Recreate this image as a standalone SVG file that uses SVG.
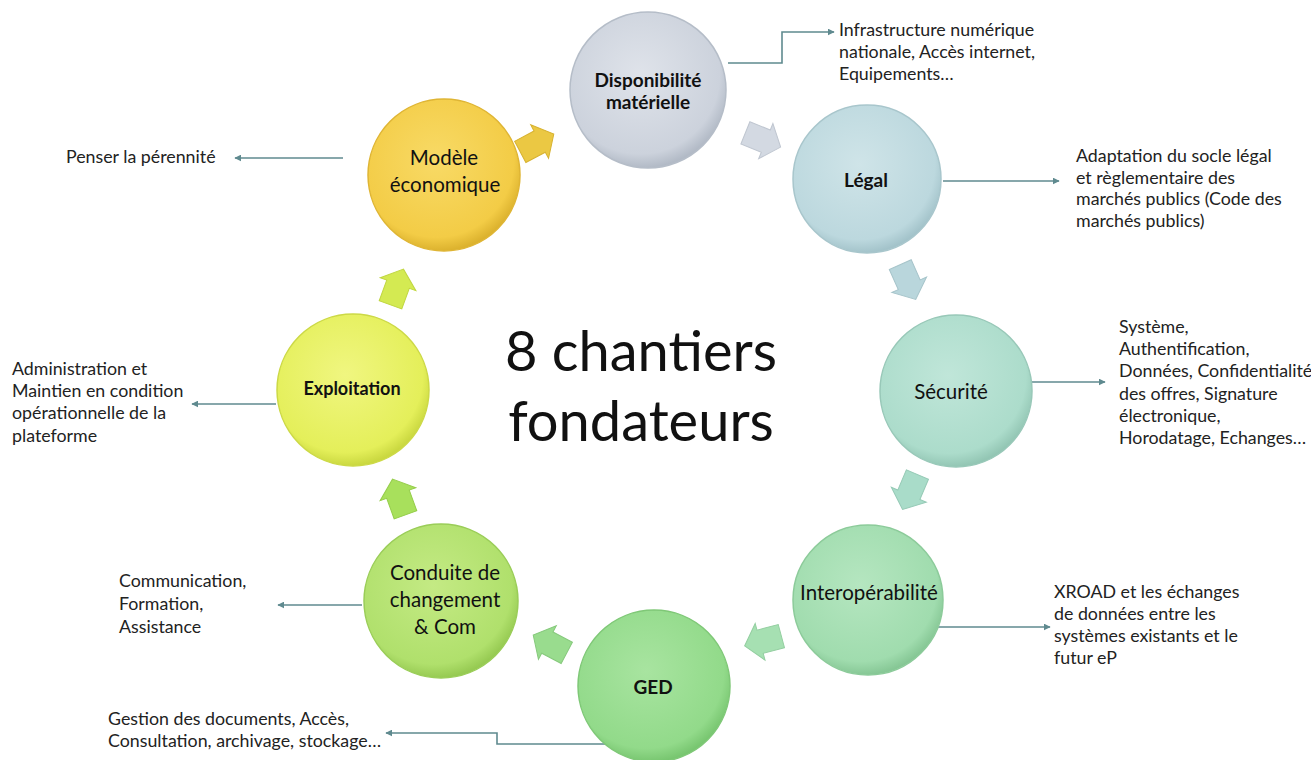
<svg xmlns="http://www.w3.org/2000/svg" xmlns:xlink="http://www.w3.org/1999/xlink" width="1311" height="760" viewBox="0 0 1311 760">
<style>
.lbl{font-family:Lato,"Open Sans","Liberation Sans",sans-serif;fill:#111;}
.note{font-family:Lato,"Open Sans","Liberation Sans",sans-serif;font-size:17.8px;fill:#222;}
.node{font-size:20.5px;text-anchor:middle;}
.b{font-weight:bold;font-size:19px;}
.conn{fill:none;stroke:#5f8a8f;stroke-width:1.6;}
.title{font-family:Lato,"Open Sans","Liberation Sans",sans-serif;font-size:56px;fill:#111;text-anchor:middle;}
</style>
<defs>
<marker id="ah" viewBox="0 0 10 10" refX="9" refY="5" markerWidth="7" markerHeight="7" markerUnits="userSpaceOnUse" orient="auto">
<path d="M0,0 L10,5 L0,10 Z" fill="#5f8a8f"/>
</marker>
<path id="barrow" d="M-19,-12 L3,-12 L3,-19 L19,0 L3,19 L3,12 L-19,12 Z"/>
<radialGradient id="g1" cx="0.45" cy="0.4" r="0.6"><stop offset="0" stop-color="#dfe3ea"/><stop offset="0.85" stop-color="#ccd2dc"/><stop offset="1" stop-color="#b2bac6"/></radialGradient>
<radialGradient id="g2" cx="0.45" cy="0.4" r="0.6"><stop offset="0" stop-color="#cfe4e8"/><stop offset="0.85" stop-color="#bcd8de"/><stop offset="1" stop-color="#a3c3ca"/></radialGradient>
<radialGradient id="g3" cx="0.45" cy="0.4" r="0.6"><stop offset="0" stop-color="#c0e6d9"/><stop offset="0.85" stop-color="#acdccb"/><stop offset="1" stop-color="#93c6b4"/></radialGradient>
<radialGradient id="g4" cx="0.45" cy="0.4" r="0.6"><stop offset="0" stop-color="#b5e6c0"/><stop offset="0.85" stop-color="#a0dcae"/><stop offset="1" stop-color="#86c795"/></radialGradient>
<radialGradient id="g5" cx="0.45" cy="0.4" r="0.6"><stop offset="0" stop-color="#a8e4a0"/><stop offset="0.85" stop-color="#92da8a"/><stop offset="1" stop-color="#78c670"/></radialGradient>
<radialGradient id="g6" cx="0.45" cy="0.4" r="0.6"><stop offset="0" stop-color="#c4ea84"/><stop offset="0.85" stop-color="#b0e06c"/><stop offset="1" stop-color="#96ca52"/></radialGradient>
<radialGradient id="g7" cx="0.45" cy="0.4" r="0.6"><stop offset="0" stop-color="#f0f680"/><stop offset="0.85" stop-color="#e4ef5a"/><stop offset="1" stop-color="#cad840"/></radialGradient>
<radialGradient id="g8" cx="0.45" cy="0.4" r="0.6"><stop offset="0" stop-color="#f8da66"/><stop offset="0.85" stop-color="#f3cc46"/><stop offset="1" stop-color="#dcb22e"/></radialGradient>
</defs>
<rect width="1311" height="760" fill="#ffffff"/>

<g id="connectors">
<polyline class="conn" points="728,63 782,63 782,32 834,32" marker-end="url(#ah)"/>
<line class="conn" x1="943" y1="181" x2="1059" y2="181" marker-end="url(#ah)"/>
<line class="conn" x1="343" y1="158" x2="235" y2="158" marker-end="url(#ah)"/>
<line class="conn" x1="1031" y1="382" x2="1105" y2="382" marker-end="url(#ah)"/>
<line class="conn" x1="276" y1="404" x2="192" y2="404" marker-end="url(#ah)"/>
<line class="conn" x1="362" y1="605" x2="278" y2="605" marker-end="url(#ah)"/>
<line class="conn" x1="930" y1="627" x2="1050" y2="627" marker-end="url(#ah)"/>
<polyline class="conn" points="610,744 497,744 497,733 386,733" marker-end="url(#ah)"/>
</g>

<g id="flow-arrows">
<use xlink:href="#barrow" transform="translate(537,143) rotate(-28)" fill="#ebc843" stroke="#d7b230" stroke-width="1"/>
<use xlink:href="#barrow" transform="translate(763,140) rotate(22)" fill="#d3d9e2" stroke="#bfc6d0" stroke-width="1"/>
<use xlink:href="#barrow" transform="translate(908,282) rotate(66)" fill="#b9d6dc" stroke="#a6c4ca" stroke-width="1"/>
<use xlink:href="#barrow" transform="translate(910,492) rotate(113)" fill="#a9dcc9" stroke="#96cab6" stroke-width="1"/>
<use xlink:href="#barrow" transform="translate(763,641) rotate(165)" fill="#a6e0b2" stroke="#93cea0" stroke-width="1"/>
<use xlink:href="#barrow" transform="translate(550,644) rotate(-152)" fill="#99dc8e" stroke="#86c97c" stroke-width="1"/>
<use xlink:href="#barrow" transform="translate(399,497) rotate(-110)" fill="#a8e05c" stroke="#95cd4a" stroke-width="1"/>
<use xlink:href="#barrow" transform="translate(397,287) rotate(-70)" fill="#d4ea52" stroke="#c0d640" stroke-width="1"/>
</g>

<g id="node-disponibilite">
<circle cx="648" cy="90" r="78" fill="url(#g1)" stroke="#b5bdc8" stroke-width="1.5"/>
<text class="lbl node b" x="648" y="87">Disponibilité</text>
<text class="lbl node b" x="648" y="109">matérielle</text>
</g>
<g id="node-legal">
<circle cx="867" cy="179" r="74" fill="url(#g2)" stroke="#a8c6cc" stroke-width="1.5"/>
<text class="lbl node b" x="866" y="187">Légal</text>
</g>
<g id="node-securite">
<circle cx="956" cy="391" r="76" fill="url(#g3)" stroke="#98c8b8" stroke-width="1.5"/>
<text class="lbl node" x="951" y="399">Sécurité</text>
</g>
<g id="node-interop">
<circle cx="868" cy="600" r="75" fill="url(#g4)" stroke="#8ccb9a" stroke-width="1.5"/>
<text class="lbl node" x="869" y="600">Interopérabilité</text>
</g>
<g id="node-ged">
<circle cx="654" cy="686" r="76" fill="url(#g5)" stroke="#7fc877" stroke-width="1.5"/>
<text class="lbl node b" x="653" y="694">GED</text>
</g>
<g id="node-conduite">
<circle cx="441" cy="601" r="77" fill="url(#g6)" stroke="#9acd58" stroke-width="1.5"/>
<text class="lbl node" x="445" y="580">Conduite de</text>
<text class="lbl node" x="445" y="607">changement</text>
<text class="lbl node" x="445" y="634">&amp; Com</text>
</g>
<g id="node-exploitation">
<circle cx="353" cy="390" r="76" fill="url(#g7)" stroke="#ccd946" stroke-width="1.5"/>
<text class="lbl node b" x="352" y="395" style="font-size:18px">Exploitation</text>
</g>
<g id="node-modele">
<circle cx="444" cy="175" r="76" fill="url(#g8)" stroke="#dfb534" stroke-width="1.5"/>
<text class="lbl node" x="444" y="165">Modèle</text>
<text class="lbl node" x="445" y="192">économique</text>
</g>

<g id="center-title">
<text class="title" x="641" y="371">8 chantiers</text>
<text class="title" x="641" y="441">fondateurs</text>
</g>

<g id="notes">
<text class="note" x="839" y="36">Infrastructure numérique</text>
<text class="note" x="839" y="58">nationale, Accès internet,</text>
<text class="note" x="839" y="80">Equipements…</text>

<text class="note" x="1076" y="162">Adaptation du socle légal</text>
<text class="note" x="1076" y="184">et règlementaire des</text>
<text class="note" x="1076" y="205">marchés publics (Code des</text>
<text class="note" x="1076" y="227">marchés publics)</text>

<text class="note" x="66" y="163">Penser la pérennité</text>

<text class="note" x="1119" y="333">Système,</text>
<text class="note" x="1119" y="355">Authentification,</text>
<text class="note" x="1119" y="377">Données, Confidentialité</text>
<text class="note" x="1119" y="400">des offres, Signature</text>
<text class="note" x="1119" y="422">électronique,</text>
<text class="note" x="1119" y="444">Horodatage, Echanges…</text>

<text class="note" x="12" y="375">Administration et</text>
<text class="note" x="12" y="397">Maintien en condition</text>
<text class="note" x="12" y="419">opérationnelle de la</text>
<text class="note" x="12" y="442">plateforme</text>

<text class="note" x="1054" y="598">XROAD et les échanges</text>
<text class="note" x="1054" y="620">de données entre les</text>
<text class="note" x="1054" y="642">systèmes existants et le</text>
<text class="note" x="1054" y="664">futur eP</text>

<text class="note" x="119" y="587">Communication,</text>
<text class="note" x="119" y="610">Formation,</text>
<text class="note" x="119" y="633">Assistance</text>

<text class="note" x="108" y="725">Gestion des documents, Accès,</text>
<text class="note" x="108" y="747">Consultation,  archivage, stockage…</text>
</g>
</svg>
